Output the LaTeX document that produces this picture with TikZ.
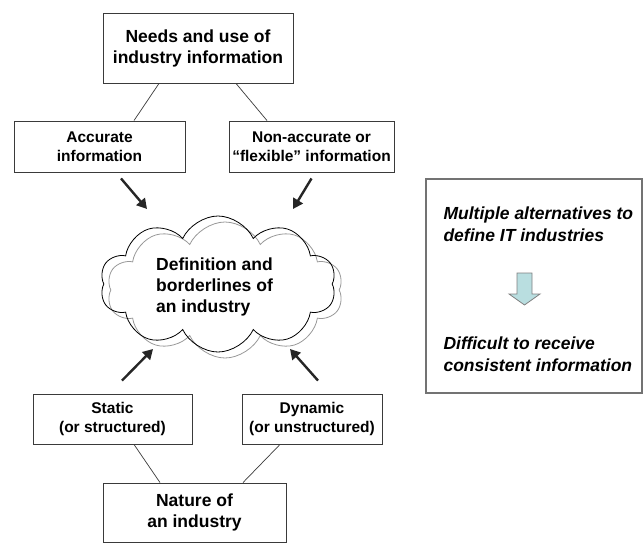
\documentclass[tikz,border=0pt]{standalone}
\usepackage{fontspec}
\setmainfont{Liberation Sans}
\usetikzlibrary{shapes.symbols,arrows.meta}
\definecolor{boxline}{HTML}{3A3A3A}
\definecolor{arrowfill}{HTML}{B9DEE0}
\begin{document}
\begin{tikzpicture}[x=1pt,y=-1pt,
  bigtext/.style={font=\fontsize{17.5}{21}\selectfont\bfseries, align=center},
  smalltext/.style={font=\fontsize{15.5}{19}\selectfont\bfseries, align=center},
  infobox/.style={draw=boxline, line width=0.9pt, fill=white, inner sep=0pt},
  link/.style={draw=boxline, line width=0.7pt},
  push/.style={line width=2.4pt, draw=black!85, -{Triangle[length=10pt,width=11pt]}},
  puff/.style={cloud, cloud puffs=10, cloud puff arc=130, minimum width=236pt, minimum height=136pt, inner sep=0pt},
  note/.style={font=\fontsize{17.5}{22}\selectfont\bfseries\itshape, align=left, anchor=west}
]
\useasboundingbox (0,0) rectangle (644,543);

% upper half: information needs
\node[infobox, bigtext, minimum width=190pt, minimum height=70pt] (needs) at (198,48) {Needs and use of\\industry information};
\node[infobox, smalltext, minimum width=171pt, minimum height=51pt] (acc) at (99.5,146.5) {Accurate\\information};
\node[infobox, smalltext, minimum width=165pt, minimum height=51pt] (flex) at (311.5,146.5) {Non-accurate or\\“flexible” information};

\draw[link] ([xshift=-39pt]needs.south) -- ([xshift=34.5pt]acc.north);
\draw[link] ([xshift=38pt]needs.south) -- ([xshift=-44.5pt]flex.north);

% central cloud with its shadow outline
\node[puff, draw=black!40, line width=0.8pt, shape border rotate=8] (cloudshade) at (225,290) {};
\node[puff, draw=black, line width=0.8pt] (cloud) at (218,284) {};
\node[bigtext, align=left] (cloudtext) at (214.5,287) {Definition and\\borderlines of\\an industry};

% lower half: nature of the industry
\node[infobox, smalltext, minimum width=159pt, minimum height=50pt] (static) at (112.5,419) {Static\\(or structured)};
\node[infobox, smalltext, minimum width=140pt, minimum height=50pt] (dynamic) at (312,419) {Dynamic\\(or unstructured)};
\node[infobox, bigtext, minimum width=183pt, minimum height=59.5pt] (nature) at (194.5,512.75) {Nature of\\an industry};

\draw[link] ([xshift=21.5pt]static.south) -- ([xshift=-34.5pt]nature.north);
\draw[link] ([xshift=-32pt]dynamic.south) -- ([xshift=48.5pt]nature.north);

% arrows pointing at the cloud
\coordinate (a1s) at ([xshift=21.5pt,yshift=-6pt]acc.south);
\coordinate (a1e) at (147,209);
\coordinate (a2s) at ([yshift=-6pt]flex.south);
\coordinate (a2e) at (293,209);
\coordinate (a3s) at ([xshift=9.5pt,yshift=13pt]static.north);
\coordinate (a3e) at (153,349);
\coordinate (a4s) at ([xshift=6pt,yshift=13pt]dynamic.north);
\coordinate (a4e) at (290,349);
\draw[push] (a1s) -- (a1e);
\draw[push] (a2s) -- (a2e);
\draw[push] (a3s) -- (a3e);
\draw[push] (a4s) -- (a4e);

% side note
\node[draw=black!55, line width=1.3pt, minimum width=216pt, minimum height=214pt, inner sep=0pt] (rbox) at (534,286) {};
\node[note] (multi) at (440,224.6) {Multiple alternatives to\\define IT industries};
\node[note] (diff) at (440,354.6) {Difficult to receive\\consistent information};
\draw[draw=black!50, fill=arrowfill, line width=0.8pt]
  (517,273) -- (532,273) -- (532,294) -- (540,294) -- (524.5,305) -- (509,294) -- (517,294) -- cycle;
\end{tikzpicture}
\end{document}
